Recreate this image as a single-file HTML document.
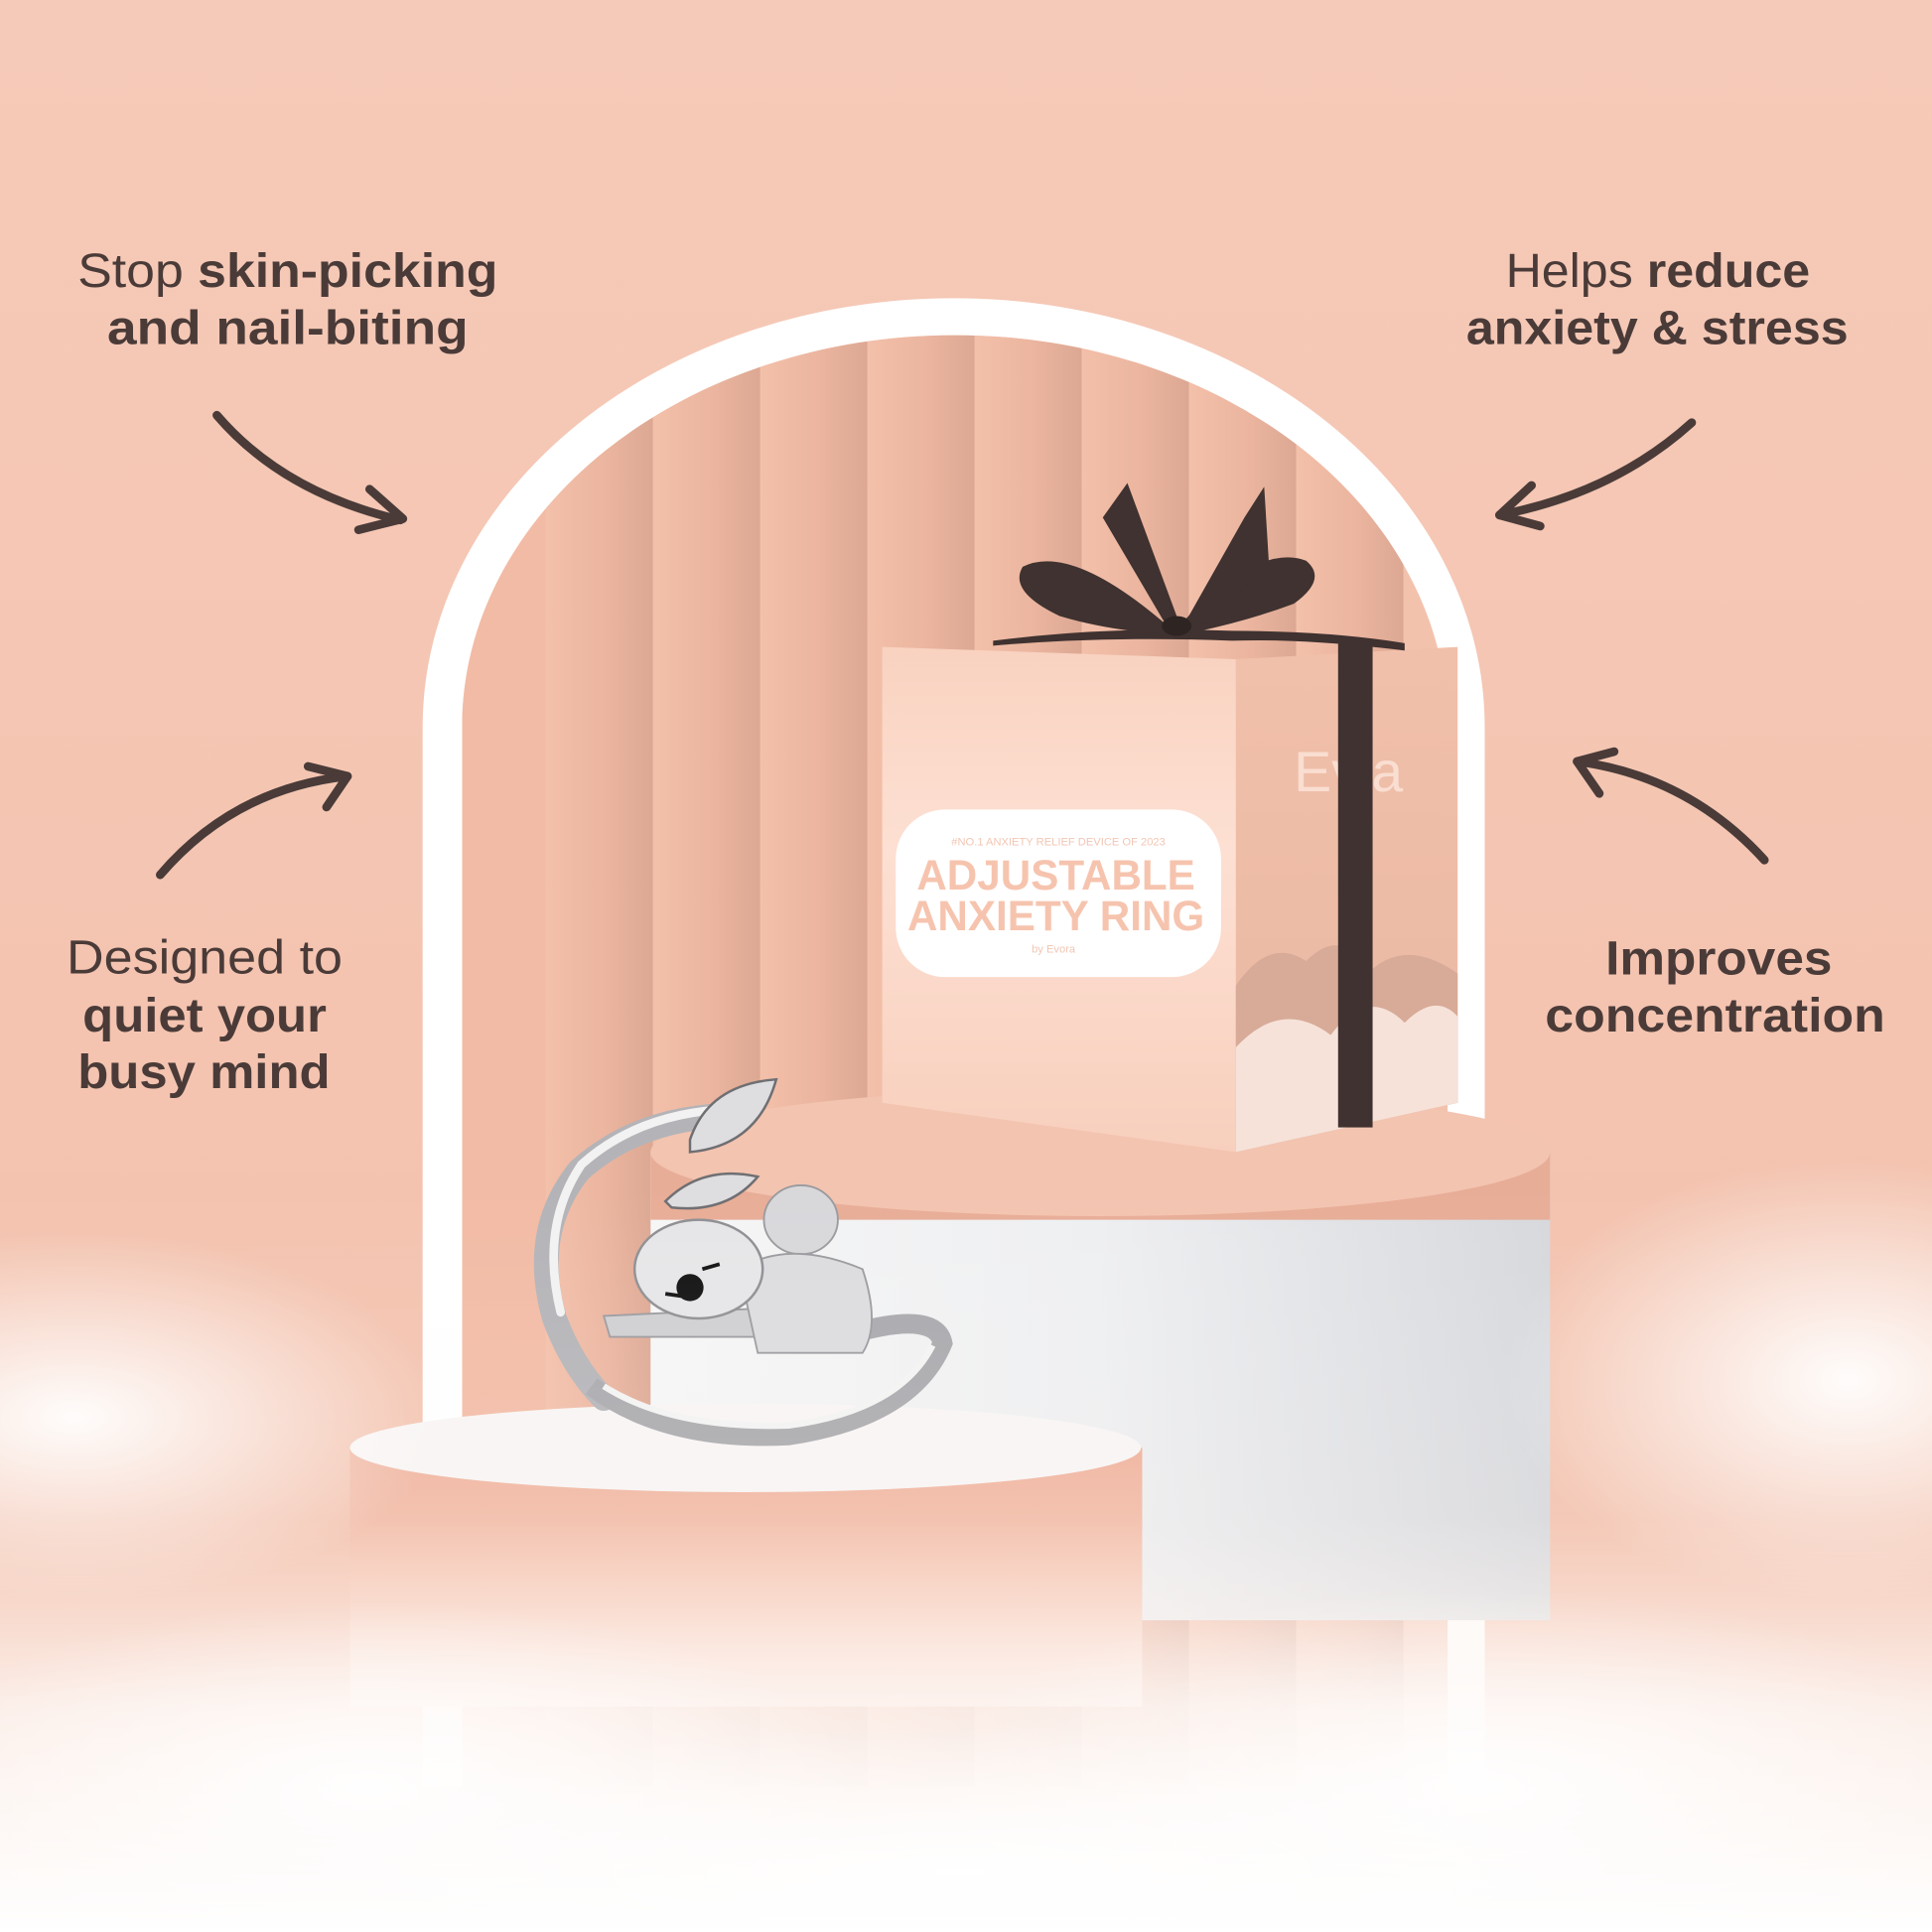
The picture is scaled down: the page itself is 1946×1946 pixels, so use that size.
<!DOCTYPE html>
<html><head><meta charset="utf-8"><style>
html,body{margin:0;padding:0;background:#f5c9b7;}
svg{display:block}
</style></head><body>
<svg width="1946" height="1946" viewBox="0 0 1568 1568" xmlns="http://www.w3.org/2000/svg">
<defs>
<linearGradient id="bg" x1="0" y1="0" x2="0" y2="1">
<stop offset="0" stop-color="#f6cab8"/><stop offset="1" stop-color="#f2bfaa"/></linearGradient>
<linearGradient id="pleat" x1="0" y1="0" x2="1" y2="0">
<stop offset="0" stop-color="#f3c0aa"/><stop offset="0.55" stop-color="#ebb59f"/><stop offset="1" stop-color="#dca893"/></linearGradient>
<linearGradient id="front" x1="0" y1="0" x2="0" y2="1">
<stop offset="0" stop-color="#f9d2c0"/><stop offset="0.4" stop-color="#fde0d3"/><stop offset="1" stop-color="#f8cfbd"/></linearGradient>
<linearGradient id="side" x1="0" y1="0" x2="0" y2="1">
<stop offset="0" stop-color="#f1c0aa"/><stop offset="1" stop-color="#e9b8a3"/></linearGradient>
<linearGradient id="bigbody" x1="0" y1="0" x2="1" y2="0">
<stop offset="0" stop-color="#f6f6f6"/><stop offset="0.5" stop-color="#eeeff1"/><stop offset="1" stop-color="#d6d8dc"/></linearGradient>
<linearGradient id="smallbody" x1="0" y1="0" x2="0" y2="1">
<stop offset="0" stop-color="#eeb09a"/><stop offset="0.6" stop-color="#f6c6b2"/><stop offset="1" stop-color="#fbe4da"/></linearGradient>
<linearGradient id="cloud" x1="0" y1="0" x2="0" y2="1">
<stop offset="0" stop-color="#ffffff" stop-opacity="0"/><stop offset="0.45" stop-color="#fdf3ef" stop-opacity="0.15"/><stop offset="0.7" stop-color="#fdf5f1" stop-opacity="0.85"/><stop offset="1" stop-color="#ffffff" stop-opacity="1"/></linearGradient>
<radialGradient id="puff"><stop offset="0" stop-color="#fff" stop-opacity="0.95"/><stop offset="1" stop-color="#fff" stop-opacity="0"/></radialGradient>
<clipPath id="archClip"><path d="M375 1450 V590 A400 318 0 0 1 1175 590 V1450 Z"/></clipPath>
</defs>
<rect width="1568" height="1568" fill="url(#bg)"/>
<!-- arch -->
<path d="M343 1450 V590 A431 348 0 0 1 1205 590 V1450 Z" fill="#ffffff"/>
<g clip-path="url(#archClip)">
<rect x="375" y="240" width="800" height="1220" fill="#f3c2ad"/>
<rect x="443" y="240" width="87" height="1220" fill="url(#pleat)"/>
<rect x="530" y="240" width="87" height="1220" fill="url(#pleat)"/>
<rect x="617" y="240" width="87" height="1220" fill="url(#pleat)"/>
<rect x="704" y="240" width="87" height="1220" fill="url(#pleat)"/>
<rect x="791" y="240" width="87" height="1220" fill="url(#pleat)"/>
<rect x="878" y="240" width="87" height="1220" fill="url(#pleat)"/>
<rect x="965" y="240" width="87" height="1220" fill="url(#pleat)"/>
<rect x="1052" y="240" width="87" height="1220" fill="url(#pleat)"/>
<rect x="375" y="240" width="68" height="1220" fill="#f2bba5"/>
</g>
<!-- big podium -->
<rect x="528" y="935" width="730" height="380" fill="url(#bigbody)"/>
<path d="M528 935 V990 H1258 V935 Z" fill="#e8ad97"/>
<ellipse cx="893" cy="935" rx="365" ry="52" fill="#f3c4b0"/>
<!-- box -->
<path d="M1003 535 L1183 525 L1183 895 L1003 935 Z" fill="url(#side)"/>
<path d="M716 525 L1003 535 L1003 935 L716 895 Z" fill="url(#front)"/>
<path d="M1003 800 Q1030 760 1060 780 Q1090 750 1110 790 Q1140 760 1183 790 V895 L1003 935 Z" fill="#d8aa98"/>
<path d="M1003 850 Q1040 810 1080 840 Q1110 800 1140 830 Q1165 805 1183 825 V895 L1003 935 Z" fill="#f6e2d9"/>
<text x="1050" y="642" font-family="Liberation Sans, sans-serif" font-size="46" fill="#fbe2d6" opacity="0.9">Ev</text>
<text x="1113" y="642" font-family="Liberation Sans, sans-serif" font-size="46" fill="#fbe2d6" opacity="0.9">a</text>
<rect x="727" y="657" width="264" height="136" rx="40" fill="#ffffff"/>
<text x="859" y="686" text-anchor="middle" font-family="Liberation Sans, sans-serif" font-size="9" fill="#f2c6b4">#NO.1 ANXIETY RELIEF DEVICE OF 2023</text>
<text x="857" y="722" text-anchor="middle" font-family="Liberation Sans, sans-serif" font-weight="bold" font-size="34" fill="#f6c4ae">ADJUSTABLE</text>
<text x="857" y="755" text-anchor="middle" font-family="Liberation Sans, sans-serif" font-weight="bold" font-size="34" fill="#f6c4ae">ANXIETY RING</text>
<text x="855" y="773" text-anchor="middle" font-family="Liberation Sans, sans-serif" font-size="9" fill="#f2c6b4">by Evora</text>
<rect x="1086" y="520" width="28" height="395" fill="#3f3230"/>
<!-- bow -->
<path d="M806 520 Q900 508 1000 512 Q1080 512 1140 522 L1140 528 Q1060 518 1000 520 Q900 516 806 524 Z" fill="#3f3230"/>
<path d="M950 510 Q870 440 830 460 Q818 480 860 500 Q900 512 950 515 Z" fill="#3f3230"/>
<path d="M955 510 Q1020 440 1060 455 Q1078 470 1050 490 Q1010 505 960 515 Z" fill="#3f3230"/>
<path d="M945 505 L895 420 L915 392 L955 500 Z" fill="#3f3230"/>
<path d="M962 505 L1010 420 L1026 395 L1030 460 L972 510 Z" fill="#3f3230"/>
<ellipse cx="955" cy="508" rx="12" ry="8" fill="#2e2422"/>
<!-- small podium -->
<rect x="284" y="1175" width="643" height="210" fill="url(#smallbody)"/>
<ellipse cx="605" cy="1175" rx="321" ry="36" fill="#f8f5f4"/>
<!-- ring -->
<g>
<path d="M600 905 Q520 905 470 950 Q430 1000 450 1070 Q465 1110 490 1135" fill="none" stroke="#b4b4b8" stroke-width="20" stroke-linecap="round"/>
<path d="M596 900 Q520 902 472 945 Q438 995 455 1065" fill="none" stroke="#f2f2f2" stroke-width="7" stroke-linecap="round"/>
<path d="M480 1125 Q540 1170 640 1165 Q740 1150 765 1090 Q760 1065 700 1080" fill="none" stroke="#a9a9ad" stroke-width="16"/>
<path d="M490 1125 Q545 1160 640 1157 Q730 1145 757 1092" fill="none" stroke="#f3f3f3" stroke-width="5"/>
<path d="M560 925 Q575 880 630 876 Q615 930 560 935 Z" fill="#dedee1" stroke="#6f6f73" stroke-width="2"/>
<path d="M540 975 Q570 945 615 955 Q590 985 545 980 Z" fill="#dedee1" stroke="#6f6f73" stroke-width="2"/>
<path d="M490 1068 L700 1058 Q706 1078 690 1085 L495 1085 Z" fill="#cfcfd2" stroke="#9a9a9e" stroke-width="1.5"/>
<ellipse cx="650" cy="990" rx="30" ry="28" fill="#d8d8db" stroke="#9a9a9e" stroke-width="1.5"/>
<path d="M600 1030 Q640 1005 700 1030 Q715 1075 700 1098 L615 1098 Z" fill="#dcdcdf" stroke="#9a9a9e" stroke-width="1.5"/>
<ellipse cx="567" cy="1030" rx="52" ry="40" fill="#e6e6e8" stroke="#8f8f93" stroke-width="2"/>
<ellipse cx="560" cy="1045" rx="11" ry="11" fill="#111"/>
<path d="M540 1050 l14 2 M570 1030 l14 -4" stroke="#111" stroke-width="3"/>
</g>
<!-- clouds -->
<rect x="0" y="960" width="1568" height="608" fill="url(#cloud)"/>
<ellipse cx="60" cy="1150" rx="300" ry="150" fill="url(#puff)"/>
<ellipse cx="1500" cy="1120" rx="280" ry="180" fill="url(#puff)"/>
<ellipse cx="300" cy="1450" rx="400" ry="150" fill="url(#puff)"/>
<ellipse cx="1200" cy="1450" rx="450" ry="160" fill="url(#puff)"/>
<ellipse cx="780" cy="1520" rx="600" ry="120" fill="url(#puff)"/>
<!-- texts -->
<g font-family="Liberation Sans, sans-serif" font-size="39" fill="#4a3b38" lengthAdjust="spacingAndGlyphs">
<text x="63" y="233" textLength="341" lengthAdjust="spacingAndGlyphs"><tspan>Stop </tspan><tspan font-weight="bold">skin-picking</tspan></text>
<text x="87" y="279" font-weight="bold" textLength="293" lengthAdjust="spacingAndGlyphs">and nail-biting</text>
<text x="1222" y="233" textLength="247" lengthAdjust="spacingAndGlyphs"><tspan>Helps </tspan><tspan font-weight="bold">reduce</tspan></text>
<text x="1190" y="279" font-weight="bold" textLength="310" lengthAdjust="spacingAndGlyphs">anxiety &amp; stress</text>
<text x="54" y="790" textLength="224" lengthAdjust="spacingAndGlyphs">Designed to</text>
<text x="67" y="837" font-weight="bold" textLength="198" lengthAdjust="spacingAndGlyphs">quiet your</text>
<text x="63" y="883" font-weight="bold" textLength="205" lengthAdjust="spacingAndGlyphs">busy mind</text>
<text x="1303" y="791" font-weight="bold" textLength="184" lengthAdjust="spacingAndGlyphs">Improves</text>
<text x="1254" y="837" font-weight="bold" textLength="276" lengthAdjust="spacingAndGlyphs">concentration</text>
</g>
<!-- arrows -->
<g fill="none" stroke="#4a3b38" stroke-width="7" stroke-linecap="round" stroke-linejoin="round">
<path d="M176 337 Q230 400 325 422"/><path d="M300 397 L327 421 L291 430"/>
<path d="M1373 343 Q1310 400 1217 418"/><path d="M1243 394 L1217 418 L1250 427"/>
<path d="M130 710 Q190 640 282 630"/><path d="M250 622 L282 630 L265 655"/>
<path d="M1432 698 Q1370 630 1280 618"/><path d="M1310 610 L1280 618 L1298 644"/>
</g>
</svg>
</body></html>
